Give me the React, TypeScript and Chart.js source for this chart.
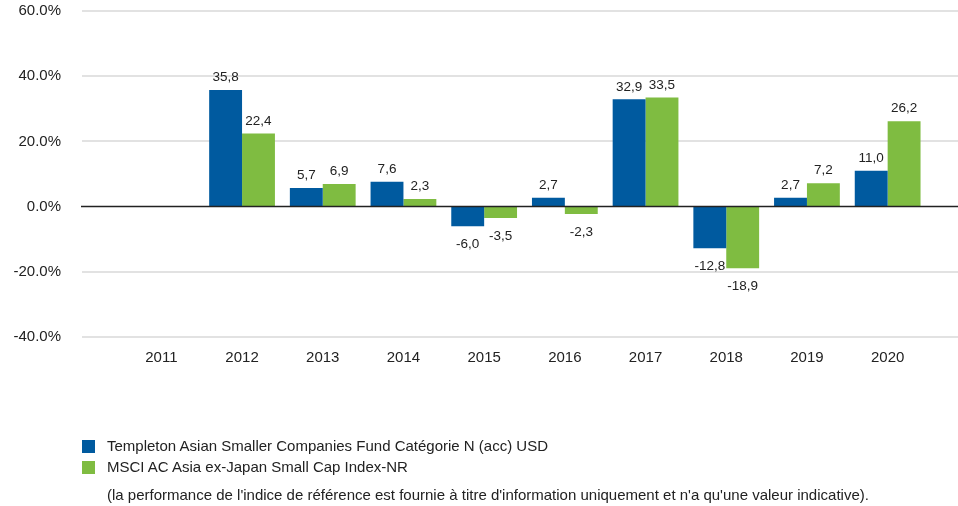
import React, { useEffect, useRef } from "react";
import { Chart, registerables } from "chart.js";

Chart.register(...registerables);

const categories = ["2011", "2012", "2013", "2014", "2015", "2016", "2017", "2018", "2019", "2020"];
const fundValues = [null, 35.8, 5.7, 7.6, -6.0, 2.7, 32.9, -12.8, 2.7, 11.0];
const indexValues = [null, 22.4, 6.9, 2.3, -3.5, -2.3, 33.5, -18.9, 7.2, 26.2];
const seriesNames = [
  "Templeton Asian Smaller Companies Fund Catégorie N (acc) USD",
  "MSCI AC Asia ex-Japan Small Cap Index-NR",
];
const footnote =
  "(la performance de l'indice de référence est fournie à titre d'information uniquement et n'a qu'une valeur indicative).";
const yMin = -40;
const yMax = 60;
const yStep = 20;

const BLUE = "#005a9f";
const GREEN = "#7fbc41";
const TEXT = "#222222";
const FONT = "'Liberation Sans', Arial, sans-serif";

export default function App() {
  const ref = useRef<HTMLCanvasElement | null>(null);

  useEffect(() => {
    const canvas = ref.current;
    if (!canvas) return;

    const gridPlugin = {
      id: "customGrid",
      beforeDatasetsDraw(chart: any) {
        const ctx = chart.ctx;
        const y = chart.scales.y;
        ctx.save();
        ctx.strokeStyle = "#e2e2e2";
        ctx.lineWidth = 2;
        y.ticks.forEach((t: any) => {
          if (t.value === 0) return;
          const py = Math.round(y.getPixelForValue(t.value));
          ctx.beginPath();
          ctx.moveTo(82, py);
          ctx.lineTo(chart.width, py);
          ctx.stroke();
        });
        ctx.restore();
      },
      afterDatasetsDraw(chart: any) {
        const ctx = chart.ctx;
        const y = chart.scales.y;
        ctx.save();
        const py = y.getPixelForValue(0);
        ctx.strokeStyle = "#222222";
        ctx.lineWidth = 1.5;
        ctx.beginPath();
        ctx.moveTo(81, py);
        ctx.lineTo(chart.width, py);
        ctx.stroke();

        ctx.fillStyle = TEXT;
        ctx.font = `13.5px ${FONT}`;
        ctx.textAlign = "center";
        ctx.textBaseline = "middle";
        chart.data.datasets.forEach((ds: any, di: number) => {
          const meta = chart.getDatasetMeta(di);
          meta.data.forEach((el: any, i: number) => {
            const v = ds.data[i];
            if (v === null || v === undefined) return;
            const txt = v.toFixed(1).replace(".", ",");
            const ty = v >= 0 ? el.y - 12.5 : el.y + 18;
            ctx.fillText(txt, el.x, ty);
          });
        });
        ctx.restore();
      },
    };

    const chart = new Chart(canvas, {
      type: "bar",
      data: {
        labels: categories,
        datasets: [
          { label: seriesNames[0], data: fundValues, backgroundColor: BLUE },
          { label: seriesNames[1], data: indexValues, backgroundColor: GREEN },
        ],
      },
      options: {
        animation: false,
        responsive: true,
        maintainAspectRatio: false,
        layout: { padding: { top: 11, right: 30, bottom: 127, left: 0 } },
        plugins: { legend: { display: false }, tooltip: { enabled: false } },
        datasets: { bar: { categoryPercentage: 0.815, barPercentage: 1 } },
        scales: {
          x: {
            grid: { display: false, drawTicks: false },
            border: { display: false },
            ticks: { color: TEXT, font: { family: FONT, size: 15 }, padding: 12 },
          },
          y: {
            min: yMin,
            max: yMax,
            grid: { display: false, drawTicks: false },
            border: { display: false },
            ticks: {
              stepSize: yStep,
              color: TEXT,
              font: { family: FONT, size: 15 },
              padding: 60,
              callback: (v: any) => Number(v).toFixed(1) + "%",
            },
            afterFit(scale: any) {
              scale.width = 121;
              scale.paddingTop = 0;
              scale.paddingBottom = 0;
            },
          },
        },
      },
      plugins: [gridPlugin],
    });
    return () => chart.destroy();
  }, []);

  const legendText: React.CSSProperties = {
    position: "absolute",
    left: 107,
    fontFamily: FONT,
    fontSize: 15,
    color: TEXT,
    lineHeight: "18px",
    whiteSpace: "nowrap",
  };
  const box = (c: string, top: number): React.CSSProperties => ({
    position: "absolute",
    left: 82,
    top,
    width: 13,
    height: 13,
    background: c,
  });

  return (
    <div style={{ position: "fixed", left: 0, top: 0, width: 958, height: 506, background: "#fff" }}>
      <canvas ref={ref} />
      <div style={box(BLUE, 440)} />
      <div style={{ ...legendText, top: 437 }}>{seriesNames[0]}</div>
      <div style={box(GREEN, 461)} />
      <div style={{ ...legendText, top: 458 }}>{seriesNames[1]}</div>
      <div style={{ ...legendText, top: 486 }}>{footnote}</div>
    </div>
  );
}
